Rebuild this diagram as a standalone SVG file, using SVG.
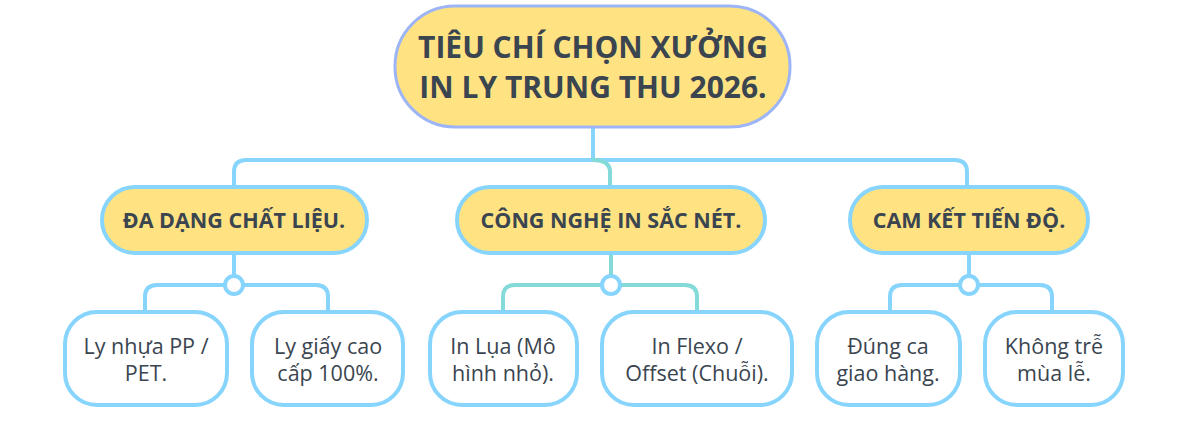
<svg xmlns="http://www.w3.org/2000/svg" width="1191" height="425" viewBox="0 0 1191 425">
<style>
.c{fill:none;stroke:#87d4fd;stroke-width:4;stroke-linecap:round;stroke-linejoin:round}
.t{stroke:#84dad8}
.dot{fill:#fff;stroke:#87d4fd;stroke-width:4}
.l1{fill:#ffe383;stroke:#87d4fd;stroke-width:4}
.leaf{fill:#fff;stroke:#87d4fd;stroke-width:4}
.rt{font-family:"Open Sans","Liberation Sans",sans-serif;font-weight:700;font-size:30px;fill:#3a4550;text-anchor:middle}
.h{font-family:"Open Sans","Liberation Sans",sans-serif;font-weight:700;font-size:21.5px;fill:#3a4550;text-anchor:middle}
.s{font-family:"Open Sans","Liberation Sans",sans-serif;font-size:21.5px;fill:#3a4550;text-anchor:middle}
</style>
<rect width="1191" height="425" fill="#fff"/>
<g id="connectors">
<path class="c" d="M593 127V160"/>
<path class="c" d="M234 187V172Q234 160 246 160H955Q967 160 967 172V187"/>
<path class="c t" d="M593 160Q610 160 610 172V187"/>
<path class="c" d="M234 253V276"/>
<path class="c" d="M145 310V297Q145 285 157 285H316Q328 285 328 297V310"/>
<path class="c t" d="M611 253V276"/>
<path class="c t" d="M503 310V297Q503 285 515 285H685Q697 285 697 297V310"/>
<path class="c" d="M969 253V276"/>
<path class="c" d="M890 310V297Q890 285 902 285H1040Q1052 285 1052 297V310"/>
<circle class="dot" cx="234" cy="285" r="9"/>
<circle class="dot" cx="611" cy="285" r="9" stroke="#84dad8"/>
<circle class="dot" cx="969" cy="285" r="9"/>
</g>
<g id="root">
<rect x="395" y="6" width="395" height="121" rx="60" fill="#ffe383" stroke="#9db5f6" stroke-width="3"/>
<text class="rt" x="593" y="58">TIÊU CHÍ CHỌN XƯỞNG</text>
<text class="rt" x="593" y="98">IN LY TRUNG THU 2026.</text>
</g>
<g id="n1"><rect class="l1" x="102" y="187" width="265" height="66" rx="33"/><text class="h" x="234" y="228">ĐA DẠNG CHẤT LIỆU.</text></g>
<g id="n2"><rect class="l1" x="457" y="187" width="308" height="66" rx="33"/><text class="h" x="611" y="228">CÔNG NGHỆ IN SẮC NÉT.</text></g>
<g id="n3"><rect class="l1" x="850" y="187" width="238" height="66" rx="33"/><text class="h" x="969" y="228">CAM KẾT TIẾN ĐỘ.</text></g>
<g id="leaf1"><rect class="leaf" x="65" y="312" width="162" height="93" rx="32"/><text class="s" x="146" y="354">Ly nhựa PP /</text><text class="s" x="146" y="381">PET.</text></g>
<g id="leaf2"><rect class="leaf" x="252" y="312" width="151" height="93" rx="32"/><text class="s" x="328" y="354">Ly giấy cao</text><text class="s" x="328" y="381">cấp 100%.</text></g>
<g id="leaf3"><rect class="leaf" x="430" y="312" width="147" height="93" rx="32"/><text class="s" x="503" y="354">In Lụa (Mô</text><text class="s" x="503" y="381">hình nhỏ).</text></g>
<g id="leaf4"><rect class="leaf" x="602" y="312" width="190" height="93" rx="32"/><text class="s" x="697" y="354">In Flexo /</text><text class="s" x="697" y="381">Offset (Chuỗi).</text></g>
<g id="leaf5"><rect class="leaf" x="817" y="312" width="143" height="93" rx="32"/><text class="s" x="888" y="354">Đúng ca</text><text class="s" x="888" y="381">giao hàng.</text></g>
<g id="leaf6"><rect class="leaf" x="985" y="312" width="138" height="93" rx="32"/><text class="s" x="1054" y="354">Không trễ</text><text class="s" x="1054" y="381">mùa lễ.</text></g>
</svg>
